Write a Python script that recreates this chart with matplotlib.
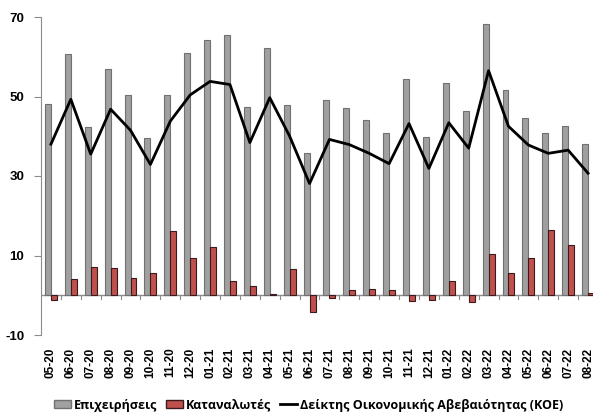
import numpy as np
import matplotlib
matplotlib.use("Agg")
import matplotlib.pyplot as plt
from matplotlib.lines import Line2D
from matplotlib.patches import Patch

# Δεδομένα
months = ['05-20', '06-20', '07-20', '08-20', '09-20', '10-20', '11-20', '12-20',
          '01-21', '02-21', '03-21', '04-21', '05-21', '06-21', '07-21', '08-21',
          '09-21', '10-21', '11-21', '12-21', '01-22', '02-22', '03-22', '04-22',
          '05-22', '06-22', '07-22', '08-22']
business = [48.2, 60.8, 42.3, 56.8, 50.4, 39.6, 50.5, 60.9, 64.3, 65.5, 47.4, 62.2, 47.8,
            35.9, 49.2, 47.0, 44.1, 40.9, 54.5, 39.9, 53.4, 46.4, 68.3, 51.6, 44.7,
            40.7, 42.7, 38.0]
consumers = [-1.3, 4.1, 7.2, 6.9, 4.4, 5.7, 16.1, 9.4, 12.1, 3.6, 2.3, 0.2, 6.5,
             -4.3, -0.8, 1.3, 1.6, 1.3, -1.4, -1.2, 3.7, -1.8, 10.4, 5.7, 9.3,
             16.5, 12.6, 0.6]
koe = [38.0, 49.3, 35.5, 46.8, 41.5, 32.9, 43.8, 50.4, 53.8, 53.0, 38.4, 49.7, 40.0,
       28.1, 39.2, 37.9, 35.7, 33.1, 43.2, 31.9, 43.4, 37.0, 56.5, 42.5, 37.8,
       35.7, 36.5, 30.7]

fig = plt.figure(figsize=(5.93, 4.18), dpi=100)
ax = fig.add_axes([41 / 593, (418 - 335) / 418, 557 / 593, 318 / 418])

x = np.arange(len(months))
w = 0.3
ax.bar(x - w / 2, business, width=w, color='#a0a0a0', edgecolor='#707070', linewidth=0.8, zorder=2)
ax.bar(x + w / 2, consumers, width=w, color='#c0504d', edgecolor='#3a1a1a', linewidth=0.8, zorder=2)
ax.plot(x, koe, color='black', linewidth=2, zorder=3)

ax.set_xlim(-0.5, len(months) - 0.5)
ax.set_ylim(-10, 70)
ax.set_yticks([-10, 10, 30, 50, 70])
ax.set_yticklabels(['-10', '10', '30', '50', '70'], family='Liberation Sans',
                   fontweight='bold', fontsize=9.5)

# άξονας x στο μηδέν
for s in ['top', 'right', 'bottom']:
    ax.spines[s].set_visible(False)
ax.spines['left'].set_color('#8c8c8c')
ax.axhline(0, color='#8c8c8c', linewidth=1, zorder=1)
ax.tick_params(axis='y', length=5, color='#8c8c8c', pad=7)
ax.set_xticks(x)
ax.set_xticklabels(months, rotation=90, family='Liberation Sans', fontweight='bold', fontsize=8.5)
ax.tick_params(axis='x', length=0, pad=9)
for b in np.arange(len(months)) + 0.5:
    ax.plot([b, b], [0, -1], color='#8c8c8c', linewidth=0.8, zorder=1, clip_on=False)

handles = [Patch(facecolor='#a0a0a0', edgecolor='#707070'),
           Patch(facecolor='#c0504d', edgecolor='#3a1a1a'),
           Line2D([0], [0], color='black', linewidth=2)]
labels = ['Επιχειρήσεις', 'Καταναλωτές', 'Δείκτης Οικονομικής Αβεβαιότητας (ΚΟΕ)']
fig.legend(handles, labels, loc='center', bbox_to_anchor=(0.52, 13 / 418),
           ncol=3, frameon=False, handlelength=1.4, handleheight=0.6, handletextpad=0.2,
           columnspacing=0.7,
           prop={'family': ['Open Sans', 'DejaVu Sans'], 'weight': 'bold', 'size': 9})

fig.savefig('out.png', dpi=100)
